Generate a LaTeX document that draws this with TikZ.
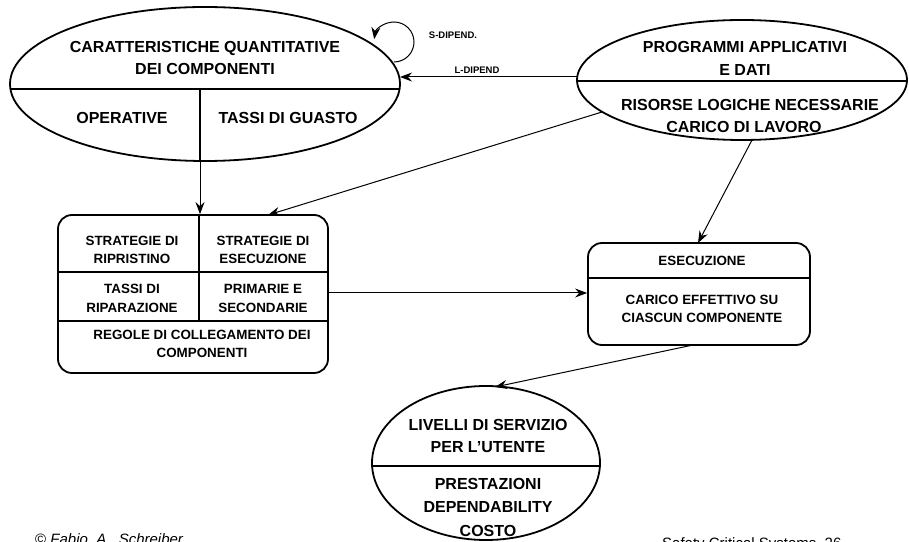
\documentclass[tikz,border=0pt]{standalone}
\usepackage{fontspec}
\setmainfont{Liberation Sans}
\usetikzlibrary{shapes.geometric,arrows.meta}

\newcommand{\bigf}{\fontsize{16}{18}\bfseries\selectfont}
\newcommand{\midf}{\fontsize{13.4}{16}\bfseries\selectfont}
\newcommand{\smallf}{\fontsize{9.5}{11}\bfseries\selectfont}

\tikzset{
  shapeline/.style={line width=1.8pt},
  oval/.style={ellipse, draw, shapeline, inner sep=0pt},
  panel/.style={rectangle, draw, shapeline, rounded corners=14pt, inner sep=0pt},
  conn/.style={line width=1pt, -{Stealth[length=12pt,width=9pt,inset=4pt]}},
  bigtxt/.style={font=\bigf, inner sep=0pt, text height=11.5pt, text depth=0pt},
  midtxt/.style={font=\midf, inner sep=0pt, text height=9.6pt, text depth=0pt},
  smalltxt/.style={font=\smallf, inner sep=0pt, text height=6.8pt, text depth=0pt},
}

\begin{document}
\begin{tikzpicture}[x=1pt,y=1pt]
\useasboundingbox (0,0) rectangle (909,541);

% ---- main shapes ----
\node[oval, minimum width=390pt, minimum height=154pt] (E1) at (205,457) {};
\node[oval, minimum width=330pt, minimum height=120pt] (E2) at (742,461) {};
\node[oval, minimum width=228pt, minimum height=154pt] (E3) at (486,78) {};
\node[panel, minimum width=270pt, minimum height=158pt] (B1) at (193,247) {};
\node[panel, minimum width=222pt, minimum height=102pt] (B2) at (699,247) {};

% ---- dividers ----
\draw[shapeline] (10.4,452) -- (399.6,452);
\coordinate (e1v) at (200,380);
\draw[shapeline] (200,452) -- (e1v);
\draw[shapeline] (577,460) -- (907,460);
\draw[shapeline] (372.1,75) -- (599.9,75);
\draw[shapeline] (B1.west |- 0,269) -- (B1.east |- 0,269);
\draw[shapeline] (B1.west |- 0,220) -- (B1.east |- 0,220);
\draw[shapeline] (199,326) -- (199,220);
\draw[shapeline] (B2.west |- 0,263) -- (B2.east |- 0,263);

% ---- texts ----
\node[bigtxt] (e1a) at (205,494) {CARATTERISTICHE QUANTITATIVE};
\node[bigtxt] (e1b) at (205,472) {DEI COMPONENTI};
\node[bigtxt] (e1c) at (122,423) {OPERATIVE};
\node[bigtxt] (e1d) at (288,423) {TASSI DI GUASTO};

\node[bigtxt] (e2a) at (745,494) {PROGRAMMI APPLICATIVI};
\node[bigtxt] (e2b) at (745,471) {E DATI};
\node[bigtxt] (e2c) at (750,436) {RISORSE LOGICHE NECESSARIE};
\node[bigtxt] (e2d) at (744,414) {CARICO DI LAVORO};

\node[midtxt] (b1a) at (132,300) {STRATEGIE DI};
\node[midtxt] (b1b) at (132,282) {RIPRISTINO};
\node[midtxt] (b1c) at (263,300) {STRATEGIE DI};
\node[midtxt] (b1d) at (263,282) {ESECUZIONE};
\node[midtxt] (b1e) at (132,252) {TASSI DI};
\node[midtxt] (b1f) at (132,233) {RIPARAZIONE};
\node[midtxt] (b1g) at (263,252) {PRIMARIE E};
\node[midtxt] (b1h) at (263,233) {SECONDARIE};
\node[midtxt] (b1i) at (202,206) {REGOLE DI COLLEGAMENTO DEI};
\node[midtxt] (b1j) at (202,188) {COMPONENTI};

\node[midtxt] (b2a) at (702,280) {ESECUZIONE};
\node[midtxt] (b2b) at (702,241) {CARICO EFFETTIVO SU};
\node[midtxt] (b2c) at (702,223) {CIASCUN COMPONENTE};

\node[bigtxt] (e3a) at (488,116) {LIVELLI DI SERVIZIO};
\node[bigtxt] (e3b) at (488,94) {PER L’UTENTE};
\node[bigtxt] (e3c) at (488,57) {PRESTAZIONI};
\node[bigtxt] (e3d) at (488,34) {DEPENDABILITY};
\node[bigtxt] (e3e) at (488,10) {COSTO};

% ---- connectors ----
\draw[conn] (e1v) -- (e1v |- B1.north);
\coordinate (e2w) at (577,464);
\coordinate (e1e) at (400,464);
\draw[conn] (e2w) -- (e1e);
\node[smalltxt] (ldip) at (477,471) {L-DIPEND};

\coordinate (loopstart) at (394,479);
\draw[conn] (loopstart) arc[start angle=-90, end angle=172, radius=20];
\node[smalltxt] (sdip) at (453,506) {S-DIPEND.};

\coordinate (e2sw) at (602,429);
\coordinate (b1n) at (268,326);
\draw[conn] (e2sw) -- (b1n);

\coordinate (e2s) at (752,401);
\coordinate (b2n) at (698,298);
\draw[conn] (e2s) -- (b2n);

\coordinate (b1e) at (328,248);
\draw[conn] (b1e) -- (B2.west |- b1e);

\coordinate (b2s) at (693,196);
\coordinate (e3n) at (495,154);
\draw[conn] (b2s) -- (e3n);

% ---- footer ----
\node[anchor=base west, inner sep=0pt, font=\fontsize{15}{18}\selectfont] (foot1)
  at (35,-3) {\copyright\ \textit{Fabio\ \ A.\ \ Schreiber}};
\node[anchor=base west, inner sep=0pt, font=\fontsize{15}{18}\selectfont] (foot2)
  at (662,-7) {Safety Critical Systems\ \ 26};
\end{tikzpicture}
\end{document}
